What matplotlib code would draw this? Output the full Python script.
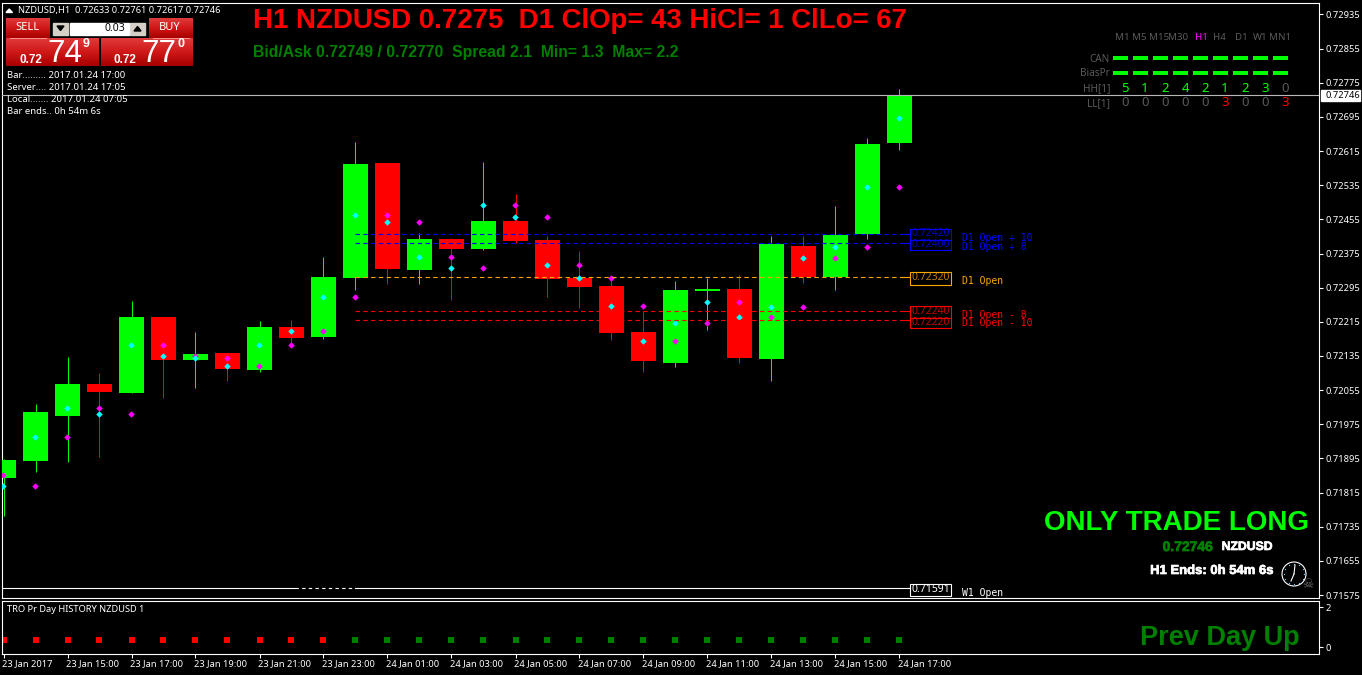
import numpy as np
import matplotlib
matplotlib.use('Agg')
import matplotlib.pyplot as plt
from matplotlib.patches import Rectangle, Circle
from matplotlib.transforms import ScaledTranslation
import matplotlib.patheffects as pe

# hourly candles, 23 Jan 13:00 -> 24 Jan 17:00
opens = [0.71849, 0.71889, 0.71994, 0.72069, 0.72048, 0.72226, 0.72126, 0.72142, 0.72102, 0.72203,
         0.72180, 0.72318, 0.72587, 0.72336, 0.72409, 0.72386, 0.72451, 0.72407, 0.72318, 0.72299,
         0.72191, 0.72119, 0.72287, 0.72292, 0.72128, 0.72393, 0.72320, 0.72421, 0.72633]
highs = [0.71894, 0.72023, 0.72133, 0.72095, 0.72264, 0.72226, 0.72191, 0.72142, 0.72217, 0.72219,
         0.72367, 0.72636, 0.72587, 0.72423, 0.72411, 0.72589, 0.72515, 0.72416, 0.72381, 0.72318,
         0.72240, 0.72311, 0.72318, 0.72325, 0.72416, 0.72416, 0.72486, 0.72646, 0.72761]
lows = [0.71760, 0.71863, 0.71887, 0.71898, 0.72048, 0.72037, 0.72060, 0.72076, 0.72098, 0.72163,
        0.72175, 0.72290, 0.72304, 0.72304, 0.72266, 0.72383, 0.72400, 0.72273, 0.72247, 0.72172,
        0.72098, 0.72109, 0.72196, 0.72119, 0.72076, 0.72306, 0.72290, 0.72409, 0.72617]
closes = [0.71891, 0.72004, 0.72069, 0.72051, 0.72226, 0.72126, 0.72140, 0.72105, 0.72203, 0.72177,
          0.72320, 0.72585, 0.72339, 0.72409, 0.72386, 0.72451, 0.72404, 0.72315, 0.72297, 0.72189,
          0.72123, 0.72290, 0.72292, 0.72130, 0.72397, 0.72320, 0.72418, 0.72632, 0.72746]

cyan_dots = [0.71830, 0.71945, 0.72013, 0.71999, 0.72161, 0.72135, 0.72130, 0.72112, 0.72161, 0.72194,
             0.72273, 0.72465, 0.72449, 0.72367, 0.72341, 0.72489, 0.72461, 0.72348, 0.72318, 0.72252,
             0.72170, 0.72212, 0.72262, 0.72226, 0.72250, 0.72365, 0.72390, 0.72531, 0.72693]
magenta_dots = [0.71856, 0.71830, 0.71945, 0.72013, 0.71999, 0.72161, 0.72135, 0.72130, 0.72112, 0.72161,
                0.72194, 0.72273, 0.72465, 0.72449, 0.72367, 0.72341, 0.72489, 0.72461, 0.72348, 0.72318,
                0.72252, 0.72170, 0.72212, 0.72262, 0.72226, 0.72250, 0.72365, 0.72390, 0.72531]

level_prices = [0.72420, 0.72400, 0.72320, 0.72240, 0.72220]
level_names = ['D1 Open + 10', 'D1 Open + 8', 'D1 Open', 'D1 Open - 8', 'D1 Open - 10']
level_colors = ['#0000ff', '#0000ff', '#ffa500', '#ff0000', '#ff0000']
w1_open = 0.71591
bid = 0.72746

price_ticks = [0.72935, 0.72855, 0.72775, 0.72695, 0.72615, 0.72535, 0.72455, 0.72375, 0.72295,
               0.72215, 0.72135, 0.72055, 0.71975, 0.71895, 0.71815, 0.71735, 0.71655, 0.71575]
time_labels = ['23 Jan 2017', '23 Jan 15:00', '23 Jan 17:00', '23 Jan 19:00', '23 Jan 21:00',
               '23 Jan 23:00', '24 Jan 01:00', '24 Jan 03:00', '24 Jan 05:00', '24 Jan 07:00',
               '24 Jan 09:00', '24 Jan 11:00', '24 Jan 13:00', '24 Jan 15:00', '24 Jan 17:00']
prev_day_up = [0] * 11 + [1] * 18   # red until the day rolls over, then green
prev_day_level = 0.35

timeframes = ['M1', 'M5', 'M15', 'M30', 'H1', 'H4', 'D1', 'W1', 'MN1']
hh_counts = [5, 1, 2, 4, 2, 1, 2, 3, 0]
ll_counts = [0, 0, 0, 0, 0, 3, 0, 0, 3]

W, H = 1362, 675
GREEN = '#00ff00'
DARK = '#008000'
UI_FONT = 'Noto Sans'
ARIAL = 'Liberation Sans'
TICK_SIZE = 6.7

fig = plt.figure(figsize=(W / 100, H / 100), dpi=100, facecolor='black')


def box(l, t, r, b):
    return [l / W, 1 - b / H, (r - l) / W, (b - t) / H]


ax = fig.add_axes(box(2.4, 2.5, 1319.4, 598))
ax2 = fig.add_axes(box(2.4, 600.5, 1319.4, 654))
for a in (ax, ax2):
    a.set_facecolor('black')
    for s in a.spines.values():
        s.set_color('white')
        s.set_linewidth(0.8)

bars = np.arange(len(opens))
opens = np.array(opens)
closes = np.array(closes)
up = closes >= opens
colors = [GREEN if u else '#ff0000' for u in up]

# candles, wicks snapped so they stay one solid pixel wide
wicks = ax.vlines(bars, lows, highs, colors=colors, linewidth=0.72, zorder=2)
wicks.set_snap(True)
ax.bar(bars, np.abs(closes - opens), bottom=np.minimum(opens, closes), width=0.78,
       color=colors, linewidth=0, antialiased=False, zorder=3)
ax.scatter(bars - 0.03, magenta_dots, marker='D', s=11, color='#ff00ff', linewidths=0, zorder=4)
ax.scatter(bars - 0.03, cyan_dots, marker='D', s=11, color='#00ffff', linewidths=0, zorder=5)

# levels
for price, col in zip(level_prices, level_colors):
    ax.plot([11, 28.03], [price, price], color=col, linewidth=0.8, dashes=(4, 3), zorder=6)
    ax.plot([28.03, 28.34], [price, price], color=col, linewidth=0.8, zorder=6)
ax.plot([-0.1, 9.1], [w1_open, w1_open], color='white', linewidth=0.8)
ax.plot([9.1, 11], [w1_open, w1_open], color='white', linewidth=0.8, dashes=(3, 3))
ax.plot([11, 28.34], [w1_open, w1_open], color='white', linewidth=0.8)
ax.axhline(bid, color='#b8b8b8', linewidth=0.8, zorder=7)

ax.set_xlim((2.4 - 3.5) / 32, (1319.4 - 3.5) / 32)
ax.set_ylim(0.71568, 0.72963)
ax.set_xticks([])
ax.yaxis.tick_right()
ax.set_yticks(price_ticks, ['%.5f' % p for p in price_ticks])
ax.tick_params(axis='y', colors='white', length=3, width=0.8, pad=1.5, labelsize=TICK_SIZE)
for t in ax.get_yticklabels():
    t.set_family(UI_FONT)

# indicator panel
for i, v in zip(bars, prev_day_up):
    ax2.scatter(i, prev_day_level, marker='s', s=25, linewidths=0, color=DARK if v else '#ff0000')
ax2.set_xlim(ax.get_xlim())
ax2.set_ylim(-0.35, 2.33)
ax2.yaxis.tick_right()
ax2.set_yticks([0, 2], ['0', '2'])
ax2.set_xticks(bars[::2], time_labels)
ax2.tick_params(axis='y', colors='white', length=3, width=0.8, pad=1.5, labelsize=TICK_SIZE)
ax2.tick_params(axis='x', colors='white', length=3, width=0.8, pad=0.8, labelsize=TICK_SIZE)
shift = ScaledTranslation(-1 / 100, 0, fig.dpi_scale_trans)
for t in ax2.get_xticklabels():
    t.set_ha('left')
    t.set_family(UI_FONT)
    t.set_transform(t.get_transform() + shift)
for t in ax2.get_yticklabels():
    t.set_family(UI_FONT)

# overlay in pixel coordinates for the terminal widgets
ui = fig.add_axes([0, 0, 1, 1], facecolor='none')
ui.set_xlim(0, W)
ui.set_ylim(H, 0)
ui.axis('off')


def label(x, y, s, color='white', size=6.7, family=UI_FONT, ha='left', **kw):
    return ui.text(x, y, s, color=color, fontsize=size, family=family, ha=ha, va='center', **kw)


def heavy(x, y, s, color, size, ha='right'):
    # no Impact here, so thicken a bold face
    t = label(x, y, s, color, size, ARIAL, ha=ha, weight='bold')
    t.set_path_effects([pe.withStroke(linewidth=0.5, foreground=color)])


red_map = matplotlib.colors.LinearSegmentedColormap.from_list('btn', ['#e03a3a', '#d01818', '#a80000'])


def red_panel(l, t, r, b):
    grad = np.linspace(0, 1, 32).reshape(-1, 1)
    ui.imshow(grad, extent=(l, r, b, t), cmap=red_map, aspect='auto', zorder=8)


# titles
label(253, 21, 'H1 NZDUSD 0.7275  D1 ClOp= 43 HiCl= 1 ClLo= 67', '#ff0000', 19.93, ARIAL, weight='bold')
label(253, 52, 'Bid/Ask 0.72749 / 0.72770  Spread 2.1  Min= 1.3  Max= 2.2', DARK, 11.3, ARIAL, weight='bold')

# status line
ui.fill([6, 12.5, 9.2], [12.5, 12.5, 9], color='white', zorder=9)
label(18, 10, 'NZDUSD,H1  0.72633 0.72761 0.72617 0.72746')

# one-click trading panel
for l, t, r, b in [(6, 18, 50, 38), (149, 18, 193, 38), (6, 38, 99, 66), (101, 38, 193, 66)]:
    red_panel(l, t, r, b)
ui.set_xlim(0, W)
ui.set_ylim(H, 0)
ui.plot([10, 46], [38, 38], color='#ff9090', linewidth=0.7, zorder=9)
ui.plot([153, 189], [38, 38], color='#ff9090', linewidth=0.7, zorder=9)
label(27.5, 28, 'SELL', ha='center', size=8, zorder=10)
label(170, 28, 'BUY', ha='center', size=8, zorder=10)
ui.add_patch(Rectangle((53, 23), 15, 12, color='#d4d0c8', zorder=9))
ui.add_patch(Rectangle((130, 23), 15, 12, color='#d4d0c8', zorder=9))
ui.add_patch(Rectangle((70, 23), 59, 12, color='white', zorder=9))
ui.fill([57, 64, 60.5], [26, 26, 30.5], color='black', zorder=10)
ui.fill([134, 141, 137.5], [31, 31, 26.5], color='black', zorder=10)
label(125, 28.5, '0.03', 'black', ha='right', size=7.5, zorder=10)
label(19, 60, '0.72', size=8.5, family=ARIAL, weight='bold', zorder=10)
label(113, 60, '0.72', size=8.5, family=ARIAL, weight='bold', zorder=10)
label(47, 54, '74', size=22.5, family=ARIAL, zorder=10)
label(141, 54, '77', size=22.5, family=ARIAL, zorder=10)
label(83, 44, '9', size=9, family=ARIAL, weight='bold', zorder=10)
label(177, 44, '0', size=9, family=ARIAL, weight='bold', zorder=10)

# comment block
label(7, 75, 'Bar......... 2017.01.24 17:00', size=6.9)
label(7, 87, 'Server.... 2017.01.24 17:05', size=6.9)
label(7, 99, 'Local....... 2017.01.24 07:05', size=6.9)
label(7, 111, 'Bar ends.. 0h 54m 6s', size=6.9)

# dashboard
gray = '#5a5a5a'
tf_x = [1122, 1139, 1159, 1178, 1201, 1219, 1241, 1260, 1280]
col_x = 1113 + 20 * np.arange(9)
for x, tf in zip(tf_x, timeframes):
    label(x, 37, tf, '#ff00ff' if tf == 'H1' else gray, ha='center', size=7)
for x in col_x:
    for y in (58, 73):
        ui.add_patch(Rectangle((x, y - 2), 15, 4, color=GREEN, linewidth=0))
for y, s in zip((59, 74, 89, 104), ('CAN', 'BiasPr', 'HH[1]', 'LL[1]')):
    label(1110, y, s, gray, ha='right', size=7.2)
for x, hh, ll in zip(col_x + 12, hh_counts, ll_counts):
    label(x, 88, str(hh), GREEN if hh else gray, ha='center', size=9.5)
    label(x, 103, str(ll), '#ff0000' if ll else gray, ha='center', size=9.5)

# bid price tag
ui.add_patch(Rectangle((1321, 90), 39, 11, color='white', zorder=8))
label(1325, 95.5, '%.5f' % bid, 'black', zorder=9)

# level tags
tag_tops = [228, 239, 271, 305, 317]
tag_bottoms = [239, 249, 284, 317, 327]
text_y = [238, 247, 280.5, 315, 323.5]
for price, name, col, t, b, ty in zip(level_prices, level_names, level_colors, tag_tops, tag_bottoms, text_y):
    ui.add_patch(Rectangle((910.4, t + 0.5), 41, b - t, fill=False, edgecolor=col, linewidth=0.8))
    label(931, (t + b) / 2 + 0.5, '%.5f' % price, col, ha='center', size=7.5, alpha=0.75)
    label(962, ty, name, col, size=7, family='DejaVu Sans Mono')
ui.add_patch(Rectangle((910.4, 583.5), 41, 12, fill=False, edgecolor='white', linewidth=0.8))
label(931, 590, '%.5f' % w1_open, ha='center', size=7.5)
label(962, 593, 'W1 Open', size=7, family='DejaVu Sans Mono')

# lower right messages
label(1044, 523, 'ONLY TRADE LONG', GREEN, 20, ARIAL, weight='bold')
heavy(1213, 547, '0.72746', DARK, 10)
heavy(1273, 547, 'NZDUSD', 'white', 8.8)
heavy(1273, 571, 'H1 Ends: 0h 54m 6s', 'white', 9.4)
ui.add_patch(Circle((1294, 574), 12, fill=False, edgecolor='white', linewidth=0.8))
hour_angles = np.deg2rad(np.arange(0, 360, 30))
ui.scatter(1294 + 10 * np.cos(hour_angles), 574 + 10 * np.sin(hour_angles), s=0.8, color='#80d0ff', linewidths=0)
ui.plot([1294, 1295], [574, 565], color='white', linewidth=0.8)
ui.plot([1294, 1291], [574, 581], color='white', linewidth=0.8)
ui.set_xlim(0, W)
ui.set_ylim(H, 0)
label(1308, 584, '\u2620', '#6a6a6a', 9, 'DejaVu Sans', ha='center')

label(7, 609, 'TRO Pr Day HISTORY NZDUSD 1')
label(1140, 638, 'Prev Day Up', DARK, 19.5, ARIAL, weight='bold')

fig.savefig('out.png', dpi=100, facecolor='black')
